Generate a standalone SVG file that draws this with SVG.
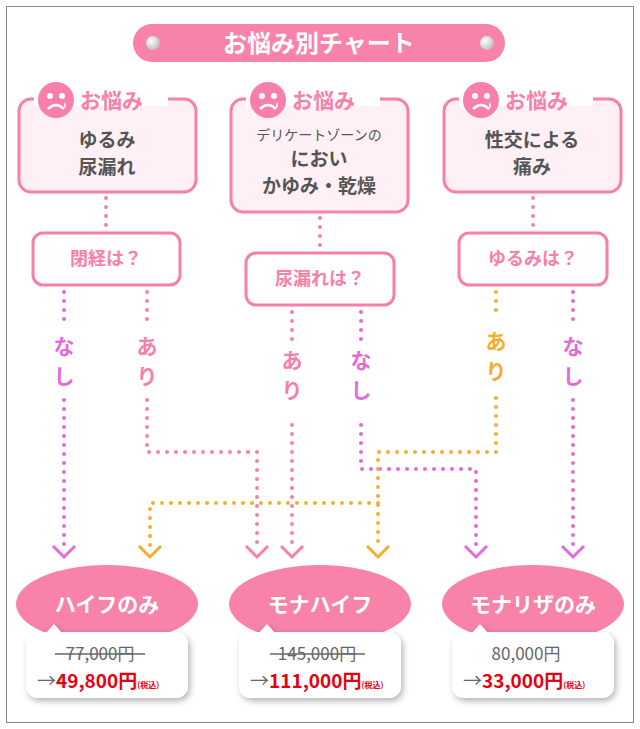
<svg xmlns="http://www.w3.org/2000/svg" width="640" height="729" viewBox="0 0 640 729">
<defs>
<style>
text{font-family:"Noto Sans CJK JP","Noto Sans",sans-serif;font-weight:bold}
.box{fill:#fff0f5;stroke:#f77faa;stroke-width:3}
.q{fill:#fff;stroke:#f77faa;stroke-width:3}
.qt{fill:#f77faa;font-size:18px;text-anchor:middle}
.bt{fill:#555;font-size:19px;text-anchor:middle}
.sm{font-size:14px;font-weight:normal}
.lbl{fill:#f77faa;font-size:21px}
.d{fill:none;stroke-width:4;stroke-linecap:round;stroke-dasharray:0 9}
.pk{stroke:#f77faa}.mg{stroke:#e46ad8}.or{stroke:#f4ae2e}
.ar{fill:none;stroke-width:3}
.vt{font-size:21px;text-anchor:middle}
.ell{fill:#f882a8}
.et{fill:#fff;font-size:21px;text-anchor:middle}
.card{fill:#fff}
.old{fill:#666;font-size:17px;text-anchor:middle;font-weight:normal}
.new{fill:#e60012;font-size:19px}
</style>
<filter id="sh" x="-10%" y="-10%" width="130%" height="140%"><feDropShadow dx="2" dy="3" stdDeviation="3" flood-color="#000" flood-opacity="0.3"/></filter>
<radialGradient id="ball" cx="0.35" cy="0.35" r="0.7"><stop offset="0" stop-color="#fff"/><stop offset="1" stop-color="#bbb"/></radialGradient>
<g id="face"><circle r="18" fill="#f77faa"/><circle cx="-6" cy="-4" r="3" fill="#fff"/><circle cx="6" cy="-4" r="3" fill="#fff"/><path d="M-8 9 Q0 1 8 9" stroke="#fff" stroke-width="2.5" fill="none"/><path d="M9 2 q2 4 0 6 q-2-2 0-6" fill="#fff"/></g>
</defs>
<rect x="6.5" y="6.5" width="627" height="716" fill="#fff" stroke="#888" stroke-width="1"/>
<g id="title"><rect x="133" y="24" width="372" height="38" rx="19" fill="#f882a8"/><circle cx="153" cy="43" r="7" fill="url(#ball)"/><circle cx="487" cy="43" r="7" fill="url(#ball)"/><text x="319" y="52" fill="#fff" font-size="24" text-anchor="middle">お悩み別チャート</text></g>

<g id="c1"><rect class="box" x="19" y="99" width="177" height="93" rx="12"/><rect x="34" y="90" width="134" height="16" fill="#fff"/><use href="#face" x="56" y="100"/><text x="80" y="108" class="lbl">お悩み</text><text class="bt" x="107" y="147">ゆるみ</text><text class="bt" x="107" y="174">尿漏れ</text></g>
<g id="c2"><rect class="box" x="231" y="99" width="177" height="113" rx="12"/><rect x="246" y="90" width="134" height="16" fill="#fff"/><use href="#face" x="268" y="100"/><text x="292" y="108" class="lbl">お悩み</text><text class="bt sm" x="319" y="140">デリケートゾーンの</text><text class="bt" x="319" y="166">におい</text><text class="bt" x="319" y="193">かゆみ・乾燥</text></g>
<g id="c3"><rect class="box" x="444" y="99" width="177" height="93" rx="12"/><rect x="459" y="90" width="134" height="16" fill="#fff"/><use href="#face" x="481" y="100"/><text x="505" y="108" class="lbl">お悩み</text><text class="bt" x="532" y="147">性交による</text><text class="bt" x="532" y="174">痛み</text></g>

<g id="q1"><rect class="q" x="33" y="233" width="147" height="52" rx="10"/><text class="qt" x="106" y="265">閉経は？</text></g>
<g id="q2"><rect class="q" x="246" y="253" width="148" height="52" rx="10"/><text class="qt" x="320" y="285">尿漏れは？</text></g>
<g id="q3"><rect class="q" x="459" y="233" width="148" height="52" rx="10"/><text class="qt" x="533" y="265">ゆるみは？</text></g>

<g id="connectors">
<path class="d pk" d="M106 198V230M320 218V250M533 198V230"/>
<path class="d mg" d="M64 292V322M64 400V548"/>
<text class="vt" x="64" y="354" fill="#e46ad8">な</text><text class="vt" x="64" y="384" fill="#e46ad8">し</text>
<path class="d pk" d="M147 292V322M147 400V452H257V548"/>
<text class="vt" x="147" y="354" fill="#f77faa">あ</text><text class="vt" x="147" y="384" fill="#f77faa">り</text>
<path class="d pk" d="M292 312V340M292 425V548"/>
<text class="vt" x="292" y="368" fill="#f77faa">あ</text><text class="vt" x="292" y="398" fill="#f77faa">り</text>
<path class="d mg" d="M361 312V340M361 425V469H476V548"/>
<text class="vt" x="361" y="368" fill="#e46ad8">な</text><text class="vt" x="361" y="398" fill="#e46ad8">し</text>
<path class="d or" d="M496 292V318M496 398V452H378V548M378 503H150V548"/>
<text class="vt" x="496" y="349" fill="#f4ae2e">あ</text><text class="vt" x="496" y="379" fill="#f4ae2e">り</text>
<path class="d mg" d="M573 292V322M573 400V548"/>
<text class="vt" x="573" y="354" fill="#e46ad8">な</text><text class="vt" x="573" y="384" fill="#e46ad8">し</text>
<path class="ar mg" d="M53 546L64 557L75 546M465 546L476 557L487 546M562 546L573 557L584 546"/>
<path class="ar or" d="M139 546L150 557L161 546M367 546L378 557L389 546"/>
<path class="ar pk" d="M246 546L257 557L268 546M281 546L292 557L303 546"/>
</g>

<g id="r1"><ellipse class="ell" cx="107" cy="604" rx="91" ry="39"/><text class="et" x="107" y="612">ハイフのみ</text><g filter="url(#sh)"><rect class="card" x="26" y="632" width="162" height="66" rx="12"/><path class="card" d="M46 633L54 624L62 633Z"/></g><text class="old" x="100" y="660">77,000円</text><line x1="55" y1="654" x2="145" y2="654" stroke="#666" stroke-width="1.5"/><text x="37" y="688" class="new"><tspan fill="#666" style="font-weight:normal">→</tspan>49,800円<tspan font-size="8">(税込)</tspan></text></g>
<g id="r2"><ellipse class="ell" cx="320" cy="604" rx="91" ry="39"/><text class="et" x="320" y="612">モナハイフ</text><g filter="url(#sh)"><rect class="card" x="239" y="632" width="162" height="66" rx="12"/><path class="card" d="M259 633L267 624L275 633Z"/></g><text class="old" x="317" y="660">145,000円</text><line x1="270" y1="654" x2="365" y2="654" stroke="#666" stroke-width="1.5"/><text x="250" y="688" class="new"><tspan fill="#666" style="font-weight:normal">→</tspan>111,000円<tspan font-size="8">(税込)</tspan></text></g>
<g id="r3"><ellipse class="ell" cx="533" cy="604" rx="91" ry="39"/><text class="et" x="533" y="612">モナリザのみ</text><g filter="url(#sh)"><rect class="card" x="452" y="632" width="162" height="66" rx="12"/><path class="card" d="M472 633L480 624L488 633Z"/></g><text class="old" x="526" y="660">80,000円</text><text x="463" y="688" class="new"><tspan fill="#666" style="font-weight:normal">→</tspan>33,000円<tspan font-size="8">(税込)</tspan></text></g>
</svg>
